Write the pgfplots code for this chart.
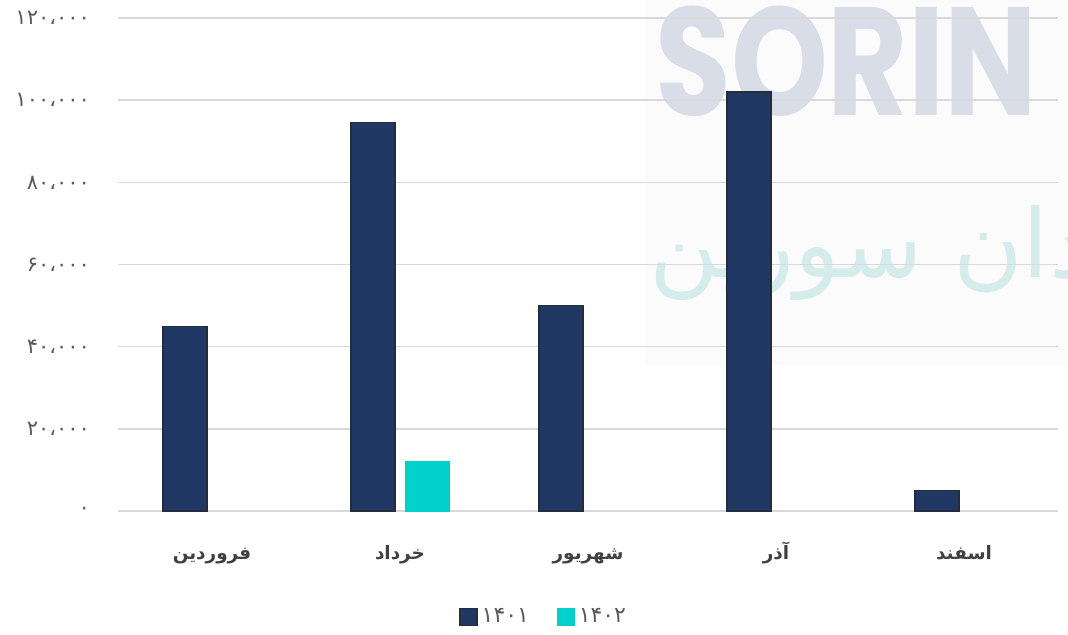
\documentclass[border=0pt]{standalone}
\usepackage{fontspec}
\usepackage{pgfplots}
\pgfplotsset{compat=1.18}
\TeXXeTstate=1
\newfontfamily\fa[Script=Arabic]{DejaVu Sans}
\newfontfamily\wmfont{Poppins}
\definecolor{navy}{HTML}{203864}
\definecolor{navyedge}{HTML}{252D3C}
\definecolor{cyanbar}{HTML}{00D1CC}
\definecolor{gridc}{HTML}{D9D9D9}
\definecolor{tickc}{HTML}{595959}
\definecolor{catc}{HTML}{404040}
\definecolor{wmblue}{HTML}{D9DDE8}
\definecolor{wmteal}{HTML}{D4ECEB}
\definecolor{bgc}{HTML}{FBFBFB}
\begin{document}
\begin{tikzpicture}
\useasboundingbox (-59pt,-61.5pt) rectangle (475pt,255.5pt);
\begin{scope}
\clip (-59pt,-61.5pt) rectangle (475pt,255.5pt);
\fill[bgc] (263.5pt,73pt) rectangle (475pt,255.5pt);
\node[anchor=base west, inner sep=0, text=wmblue, xscale=0.8] at (268.5pt,198pt) {\fontsize{77}{77}\selectfont\wmfont\bfseries SORIN};
\node[anchor=base east, inner sep=0, text=wmteal] at (487pt,117pt) {\fontsize{47.5}{48}\selectfont\fa\beginR دان سورین\endR};
\end{scope}
\begin{axis}[
  scale only axis, width=470pt, height=246.5pt,
  xmin=-0.5, xmax=4.5, ymin=0, ymax=120000,
  ybar=5pt, bar width=22pt,
  axis line style={draw=none},
  major tick style={draw=none},
  ymajorgrids, grid style={gridc, line width=0.75pt},
  scaled y ticks=false,
  ytick={0,20000,40000,60000,80000,100000,120000},
  yticklabels={\beginL ۰\endL, \beginL ۲۰،۰۰۰\endL, \beginL ۴۰،۰۰۰\endL, \beginL ۶۰،۰۰۰\endL, \beginL ۸۰،۰۰۰\endL, \beginL ۱۰۰،۰۰۰\endL, \beginL ۱۲۰،۰۰۰\endL},
  yticklabel style={font=\fontsize{10.5}{12}\selectfont\fa, text=tickc, xshift=-10.5pt},
  xtick={0,1,2,3,4},
  xticklabels={\beginR فروردین\endR, \beginR خرداد\endR, \beginR شهریور\endR, \beginR آذر\endR, \beginR اسفند\endR},
  xticklabel style={font=\fontsize{9.2}{11}\selectfont\fa\bfseries, text=catc, text height=9pt, text depth=3pt, yshift=-7.5pt},
  legend style={at={(0.454,-0.215)}, anchor=center, draw=none, fill=none,
    legend columns=2, font=\fontsize{11}{12}\selectfont\fa, text=tickc,
    /tikz/every even column/.append style={column sep=12pt}},
  legend image code/.code={\draw[#1] (0pt,-4.25pt) rectangle (8.5pt,4.25pt);},
]
\addplot[fill=navy, draw=navyedge, line width=0.6pt] coordinates {(0,45000) (1,94500) (2,50000) (3,102000) (4,5000)};
\addplot[fill=cyanbar, draw=cyanbar] coordinates {(1,12000)};
\legend{\beginL ۱۴۰۱\endL, \beginL ۱۴۰۲\endL}
\end{axis}
\end{tikzpicture}
\end{document}
